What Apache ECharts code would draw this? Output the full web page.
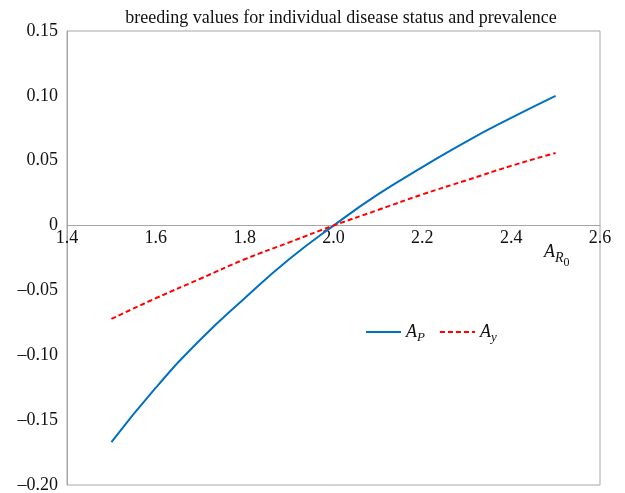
<!DOCTYPE html>
<html>
<head>
<meta charset="utf-8">
<script src="https://cdn.jsdelivr.net/npm/echarts@6/dist/echarts.min.js"></script>
<style>
html, body { margin: 0; padding: 0; background: #fff; }
#main { width: 625px; height: 493px; }
</style>
</head>
<body>
<div id="main"></div>
<script>
// values
const rValues = [1.5, 1.6, 1.7, 1.8, 1.9, 2.0, 2.1, 2.2, 2.3, 2.4, 2.5];
const apValues = [-0.167, -0.125, -0.088, -0.056, -0.026, 0, 0.024, 0.045, 0.065, 0.083, 0.100];
const ayValues = [-0.072, -0.056, -0.041, -0.026, -0.013, 0, 0.012, 0.024, 0.035, 0.046, 0.056];
const xTicks = [1.4, 1.6, 1.8, 2.0, 2.2, 2.4, 2.6];
const yTicks = [-0.20, -0.15, -0.10, -0.05, 0, 0.05, 0.10, 0.15];

const serif = '"Liberation Serif", "DejaVu Serif", serif';
const frame = '#a6a6a6';

// plot box in pixels, x axis sits on the zero line
const gridTop = 31, gridBottom = 485;
const zeroOffset = -(gridBottom - (gridTop + (gridBottom - gridTop) * 0.15 / 0.35));

const toPairs = (xs, ys) => xs.map((x, i) => [x, ys[i]]);

const chart = echarts.init(document.getElementById('main'));
chart.setOption({
  animation: false,
  title: {
    text: 'breeding values for individual disease status and prevalence',
    left: 336,
    textAlign: 'center',
    top: 4,
    textStyle: { fontFamily: serif, fontSize: 18, fontWeight: 'normal', color: '#111' }
  },
  grid: {
    left: 67, right: 25, top: gridTop, bottom: 493 - gridBottom,
    outerBoundsMode: 'none',
    containLabel: false,
    show: true, borderColor: frame, borderWidth: 1
  },
  legend: {
    left: 360, top: 318,
    itemWidth: 35, itemHeight: 10, itemGap: 14,
    data: ['A_P', 'A_y'],
    itemStyle: { opacity: 0 },
    formatter: name => name === 'A_P' ? '{i|A}{s|P}' : '{i|A}{s|y}',
    textStyle: {
      rich: {
        i: { fontFamily: serif, fontStyle: 'italic', fontSize: 18, color: '#111' },
        s: { fontFamily: serif, fontStyle: 'italic', fontSize: 13, color: '#111', padding: [12, 0, 0, 0] }
      }
    }
  },
  xAxis: {
    type: 'value',
    min: 1.4, max: 2.6, interval: 0.2,
    position: 'bottom',
    offset: zeroOffset,
    axisLine: { onZero: false, lineStyle: { color: frame, width: 1 } },
    axisTick: { show: false },
    splitLine: { show: false },
    axisLabel: {
      margin: 4,
      fontFamily: serif, fontSize: 18, color: '#111',
      customValues: xTicks,
      formatter: v => v.toFixed(1)
    }
  },
  yAxis: {
    type: 'value',
    min: -0.2, max: 0.15, interval: 0.05,
    axisLine: { show: true, onZero: false, lineStyle: { color: frame, width: 1 } },
    axisTick: { show: false },
    splitLine: { show: false },
    axisLabel: {
      margin: 9,
      fontFamily: serif, fontSize: 18, color: '#111',
      customValues: yTicks,
      formatter: v => {
        if (Math.abs(v) < 1e-9) return '0';
        return (v < 0 ? '\u2013' : '') + Math.abs(v).toFixed(2);
      }
    }
  },
  graphic: [{
    type: 'text',
    left: 544, top: 243,
    style: {
      text: '{a|A}{r|R}{z|0}',
      rich: {
        a: { fontFamily: serif, fontStyle: 'italic', fontSize: 18, fill: '#111' },
        r: { fontFamily: serif, fontStyle: 'italic', fontSize: 14, fill: '#111', padding: [12, 0, 0, 0] },
        z: { fontFamily: serif, fontSize: 12, fill: '#111', padding: [22, 0, 0, 0] }
      }
    }
  }],
  series: [
    {
      name: 'A_P',
      type: 'line',
      data: toPairs(rValues, apValues),
      smooth: true,
      symbol: 'none',
      lineStyle: { color: '#0070c0', width: 2 },
      itemStyle: { color: '#0070c0' }
    },
    {
      name: 'A_y',
      type: 'line',
      data: toPairs(rValues, ayValues),
      smooth: true,
      symbol: 'none',
      lineStyle: { color: '#ff0000', width: 2, type: [5, 3] },
      itemStyle: { color: '#ff0000' }
    }
  ]
});
</script>
</body>
</html>
